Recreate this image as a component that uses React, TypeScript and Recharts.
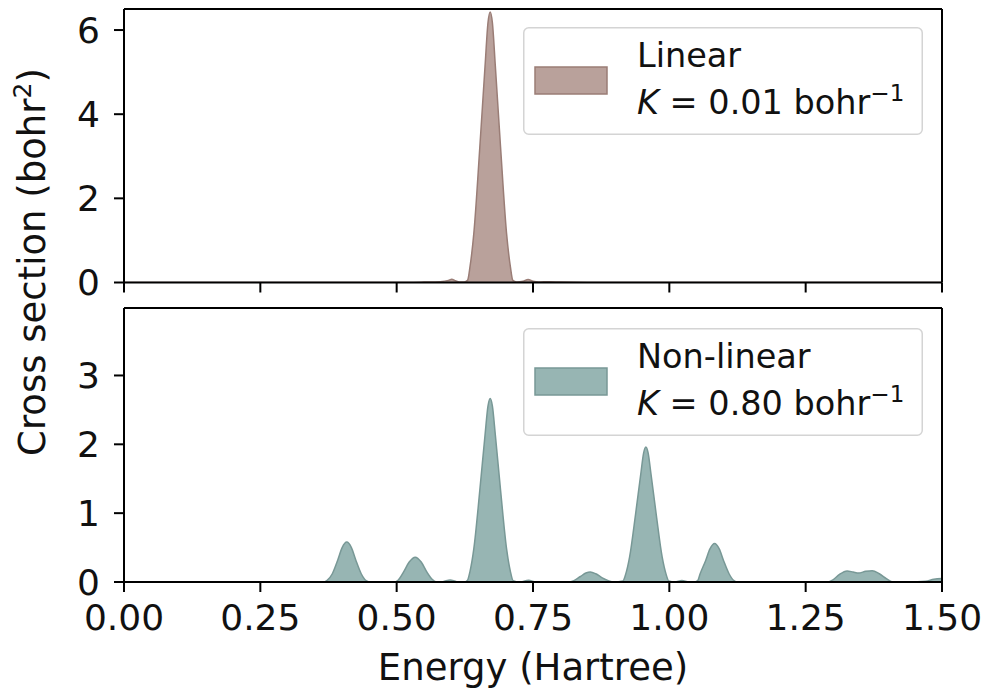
import React from 'react';
import { AreaChart, Area, XAxis, YAxis, Legend, ReferenceLine } from 'recharts';

// Energy grid (Hartree) and cross sections (bohr^2) for the two models
const linearEnergy = [
	0, 0.5, 0.55, 0.58, 0.595, 0.601, 0.608, 0.615, 0.624, 0.63, 0.6345, 0.6415, 0.6525, 0.662, 0.6675, 0.6715,
	0.6755, 0.681, 0.6905, 0.7015, 0.7085, 0.713, 0.72, 0.732, 0.741, 0.75, 0.76, 0.78, 0.8, 0.85, 1.5,
];
const linearCross = [
	0, 0, 0.01, 0.02, 0.05, 0.08, 0.04, 0.01, 0.01, 0.05, 0.375, 1.17, 3.22, 5.13, 6.18, 6.43,
	6.18, 5.13, 3.22, 1.17, 0.375, 0.05, 0.01, 0.03, 0.07, 0.03, 0.01, 0.02, 0.01, 0, 0,
];

const nonlinearEnergy = [
	0, 0.365, 0.372, 0.382, 0.392, 0.4, 0.4085, 0.417, 0.425, 0.435, 0.444, 0.452,
	0.495, 0.503, 0.513, 0.523, 0.534, 0.545, 0.555, 0.565, 0.574,
	0.585, 0.598, 0.61, 0.624,
	0.6295, 0.6345, 0.6415, 0.6525, 0.662, 0.6675, 0.6715, 0.6755, 0.681, 0.6905, 0.7015, 0.7085, 0.7135,
	0.725, 0.742, 0.755,
	0.815, 0.825, 0.837, 0.847, 0.855, 0.865, 0.877, 0.888, 0.898,
	0.915, 0.92, 0.927, 0.938, 0.9475, 0.953, 0.957, 0.961, 0.9665, 0.976, 0.987, 0.994, 0.999,
	1.01, 1.023, 1.036,
	1.045, 1.052, 1.0565, 1.0665, 1.0745, 1.083, 1.0915, 1.0995, 1.1095, 1.1185, 1.125,
	1.29, 1.3, 1.312, 1.326, 1.337, 1.347, 1.36, 1.372, 1.385, 1.398, 1.41,
	1.44, 1.47, 1.485, 1.5,
];
const nonlinearCross = [
	0, 0, 0.02, 0.12, 0.32, 0.5, 0.58, 0.5, 0.32, 0.12, 0.02, 0,
	0, 0.03, 0.15, 0.29, 0.36, 0.29, 0.15, 0.04, 0,
	0.005, 0.03, 0.005, 0,
	0.02, 0.155, 0.485, 1.335, 2.13, 2.56, 2.666, 2.56, 2.13, 1.335, 0.485, 0.155, 0.02,
	0, 0.025, 0,
	0, 0.02, 0.08, 0.13, 0.145, 0.12, 0.06, 0.02, 0,
	0.016, 0.114, 0.357, 0.98, 1.56, 1.88, 1.96, 1.88, 1.56, 0.98, 0.357, 0.114, 0.016,
	0, 0.02, 0,
	0, 0.02, 0.12, 0.31, 0.48, 0.558, 0.48, 0.31, 0.12, 0.02, 0,
	0, 0.03, 0.11, 0.16, 0.145, 0.13, 0.155, 0.165, 0.12, 0.05, 0,
	0, 0.01, 0.04, 0.05,
];

const energyTicks = [0, 0.25, 0.5, 0.75, 1, 1.25, 1.5];
const linearTicks = [0, 2, 4, 6];
const nonlinearTicks = [0, 1, 2, 3];

const linearData = linearEnergy.map((e, i) => ({ energy: e, cross: linearCross[i] }));
const nonlinearData = nonlinearEnergy.map((e, i) => ({ energy: e, cross: nonlinearCross[i] }));

const FONT = 'DejaVu Sans, sans-serif';
const axisStroke = { stroke: '#000', strokeWidth: 2 };
const tickStyle = { fill: '#111', fontSize: 36, fontFamily: FONT };

const LINEAR_FILL = '#b9a19b';
const LINEAR_EDGE = '#9a7d76';
const NONLINEAR_FILL = '#97b5b3';
const NONLINEAR_EDGE = '#789896';

// tick marks only, no labels (shared x axis on the upper panel)
const NoLabel = () => <g />;

const LegendBox = ({ title, k, fill, edge }: { title: string; k: string; fill: string; edge: string }) => (
	<svg width={400} height={108} style={{ display: 'block' }}>
		<rect x={0.75} y={0.75} width={398.5} height={106.5} rx={5} fill='rgba(255,255,255,0.85)' stroke='#d4d4d4' strokeWidth={1.5} />
		<rect x={12} y={40} width={72} height={27} fill={fill} stroke={edge} strokeWidth={1.5} />
		<text x={114} y={40} fontFamily={FONT} fontSize={33.5} fill='#111'>
			{title}
		</text>
		<text x={114} y={87} fontFamily={FONT} fontSize={33.5} fill='#111'>
			<tspan fontStyle='italic'>K</tspan>
			<tspan> = {k} bohr</tspan>
			<tspan fontSize={23} dy={-13}>−1</tspan>
		</text>
	</svg>
);

export default function App() {
	return (
		<div style={{ position: 'absolute', left: 0, top: 0, width: 987, height: 688, background: '#fff' }}>
			<div style={{ position: 'absolute', left: 0, top: 0 }}>
				<AreaChart width={987} height={302} data={linearData} margin={{ top: 9, right: 45, bottom: 0, left: 0 }}>
					<XAxis
						dataKey='energy'
						type='number'
						domain={[0, 1.5]}
						ticks={energyTicks}
						interval={0}
						tick={<NoLabel />}
						tickSize={10}
						height={19.5}
						axisLine={axisStroke}
						tickLine={axisStroke}
						allowDataOverflow
					/>
					<YAxis
						type='number'
						domain={[0, 6.5]}
						ticks={linearTicks}
						interval={0}
						width={124}
						tickSize={10}
						tickMargin={14}
						tick={tickStyle}
						axisLine={axisStroke}
						tickLine={axisStroke}
						allowDataOverflow
					/>
					<Area
						type='monotone'
						dataKey='cross'
						fill={LINEAR_FILL}
						fillOpacity={1}
						stroke={LINEAR_EDGE}
						strokeWidth={1.5}
						dot={false}
						activeDot={false}
						isAnimationActive={false}
					/>
					<ReferenceLine y={6.5} stroke='#000' strokeWidth={2} />
					<ReferenceLine x={1.5} stroke='#000' strokeWidth={2} />
					<Legend
						layout='horizontal'
						verticalAlign='middle'
						align='center'
						wrapperStyle={{ left: 523, top: 27, width: 400, height: 108 }}
						content={() => <LegendBox title='Linear' k='0.01' fill={LINEAR_FILL} edge={LINEAR_EDGE} />}
					/>
				</AreaChart>
			</div>
			<div style={{ position: 'absolute', left: 0, top: 300 }}>
				<AreaChart width={987} height={388} data={nonlinearData} margin={{ top: 8, right: 45, bottom: 0, left: 0 }}>
					<XAxis
						dataKey='energy'
						type='number'
						domain={[0, 1.5]}
						ticks={energyTicks}
						interval={0}
						tickFormatter={(v: number) => v.toFixed(2)}
						tick={tickStyle}
						tickSize={10}
						tickMargin={12}
						height={106}
						axisLine={axisStroke}
						tickLine={axisStroke}
						allowDataOverflow
					/>
					<YAxis
						type='number'
						domain={[0, 3.98]}
						ticks={nonlinearTicks}
						interval={0}
						width={124}
						tickSize={10}
						tickMargin={14}
						tick={tickStyle}
						axisLine={axisStroke}
						tickLine={axisStroke}
						allowDataOverflow
					/>
					<Area
						type='monotone'
						dataKey='cross'
						fill={NONLINEAR_FILL}
						fillOpacity={1}
						stroke={NONLINEAR_EDGE}
						strokeWidth={1.5}
						dot={false}
						activeDot={false}
						isAnimationActive={false}
					/>
					<ReferenceLine y={3.98} stroke='#000' strokeWidth={2} />
					<ReferenceLine x={1.5} stroke='#000' strokeWidth={2} />
					<Legend
						layout='horizontal'
						verticalAlign='middle'
						align='center'
						wrapperStyle={{ left: 523, top: 28, width: 400, height: 108 }}
						content={() => <LegendBox title='Non-linear' k='0.80' fill={NONLINEAR_FILL} edge={NONLINEAR_EDGE} />}
					/>
				</AreaChart>
			</div>
			{/* shared axis titles */}
			<svg width={987} height={688} style={{ position: 'absolute', left: 0, top: 0, pointerEvents: 'none' }}>
				<text x={533} y={680} textAnchor='middle' fontFamily={FONT} fontSize={37} fill='#111'>
					Energy (Hartree)
				</text>
				<text x={45} y={262} textAnchor='middle' transform='rotate(-90 45 262)' fontFamily={FONT} fontSize={37} fill='#111'>
					Cross section (bohr<tspan fontSize={25} dy={-14}>2</tspan>
					<tspan dy={14}>)</tspan>
				</text>
			</svg>
		</div>
	);
}
